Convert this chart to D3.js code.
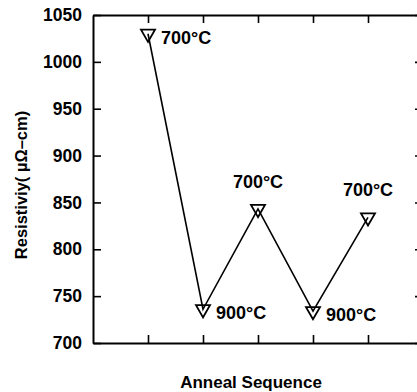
<!DOCTYPE html>
<html>
<head>
<meta charset="utf-8">
<script src="https://cdn.jsdelivr.net/npm/d3@7"></script>
<style>
  html, body { margin: 0; padding: 0; background: #fff; }
  svg { display: block; }
  text { font-family: "Liberation Sans", Arial, Helvetica, sans-serif; font-weight: bold; fill: #000; }
</style>
</head>
<body>
<script>
// ---- data ----
const categories = [1, 2, 3, 4, 5];              // anneal step
const resistivity = [1030, 736, 843, 734, 834];  // µΩ-cm
const tempLabels = ["700°C", "900°C", "700°C", "900°C", "700°C"];
const labelSide = ["right", "right", "above", "right", "above"];
const yTicks = [700, 750, 800, 850, 900, 950, 1000, 1050];
const xTicks = [1, 2, 3, 4, 5];
const yTitle = "Resistiviy( µΩ–cm)";
const xTitle = "Anneal Sequence";

// ---- layout ----
const W = 417, H = 392;
const mLeft = 93, mTop = 15, mBottom = 343, mRight = 423;

const svg = d3.select("body").append("svg").attr("width", W).attr("height", H);

const x = d3.scaleLinear().domain([0, 6]).range([mLeft, mRight]);
const y = d3.scaleLinear().domain([700, 1050]).range([mBottom, mTop]);

function styleAxis(g) {
  g.selectAll(".domain").attr("stroke", "#000").attr("stroke-width", 2);
  g.selectAll(".tick line").attr("stroke", "#000").attr("stroke-width", 1.6);
}

// left axis
svg.append("g").attr("transform", `translate(${mLeft},0)`)
  .call(d3.axisLeft(y).tickValues(yTicks).tickSizeInner(-8).tickSizeOuter(0).tickPadding(11).tickFormat(d3.format("d")))
  .call(styleAxis)
  .call(g => g.selectAll("text").attr("font-size", 17.5).style("font-family", "'Liberation Sans', Arial, sans-serif").style("font-weight", "bold").attr("fill", "#000"));

// right axis
svg.append("g").attr("transform", `translate(${mRight},0)`)
  .call(d3.axisRight(y).tickValues(yTicks).tickSizeInner(-8).tickSizeOuter(0).tickFormat(""))
  .call(styleAxis);

// bottom axis
svg.append("g").attr("transform", `translate(0,${mBottom})`)
  .call(d3.axisBottom(x).tickValues(xTicks).tickSizeInner(-8).tickSizeOuter(0).tickFormat(""))
  .call(styleAxis);

// top axis
svg.append("g").attr("transform", `translate(0,${mTop})`)
  .call(d3.axisTop(x).tickValues(xTicks).tickSizeInner(-8).tickSizeOuter(0).tickFormat(""))
  .call(styleAxis);

// line
const pts = categories.map((c, i) => [x(c), y(resistivity[i])]);
svg.append("path")
  .attr("d", d3.line()(pts))
  .attr("fill", "none")
  .attr("stroke", "#000")
  .attr("stroke-width", 1.6);

// markers (open down-triangles)
const tri = d3.symbol().type(d3.symbolTriangle).size(85);
svg.selectAll(".mk").data(pts).join("path")
  .attr("class", "mk")
  .attr("d", tri)
  .attr("transform", d => `translate(${d[0]},${d[1]}) rotate(180)`)
  .attr("fill", "none")
  .attr("stroke", "#000")
  .attr("stroke-width", 1.8);

// temperature labels
svg.selectAll(".lbl").data(pts).join("text")
  .attr("class", "lbl")
  .attr("font-size", 18)
  .attr("text-anchor", (d, i) => labelSide[i] === "above" ? "middle" : "start")
  .attr("x", (d, i) => labelSide[i] === "above" ? d[0] : d[0] + 13)
  .attr("y", (d, i) => labelSide[i] === "above" ? d[1] - 21 : d[1] + 10)
  .text((d, i) => tempLabels[i]);

// axis titles
svg.append("text")
  .attr("transform", `translate(27,${(mTop + mBottom) / 2 + 6}) rotate(-90)`)
  .attr("text-anchor", "middle")
  .attr("font-size", 16.5)
  .text(yTitle);

svg.append("text")
  .attr("x", 251)
  .attr("y", 388)
  .attr("text-anchor", "middle")
  .attr("font-size", 17)
  .text(xTitle);
</script>
</body>
</html>
